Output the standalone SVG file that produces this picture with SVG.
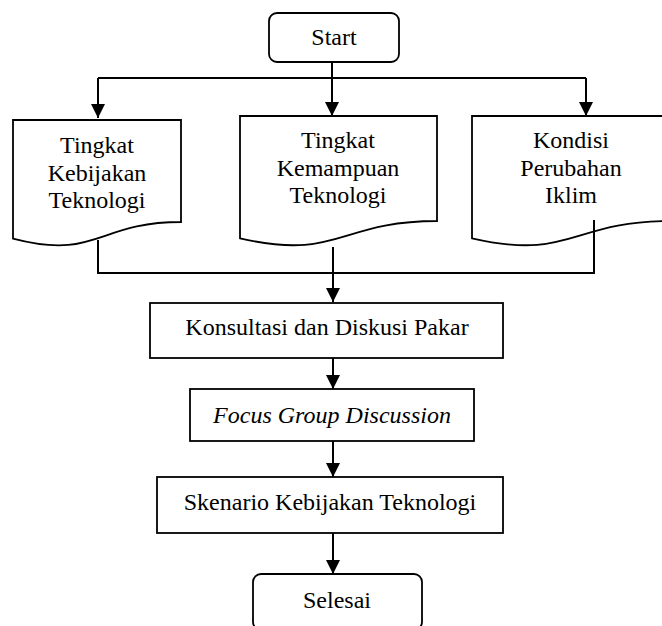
<svg xmlns="http://www.w3.org/2000/svg" width="662" height="626" viewBox="0 0 662 626">
<style>
.s{fill:#fff;stroke:#000;stroke-width:1.8}
.c{fill:none;stroke:#000;stroke-width:2}
text{font-family:"Liberation Serif","Times New Roman",serif;font-size:24px;fill:#000;text-anchor:middle}
</style>
<defs>
<marker id="ah" viewBox="0 0 14 14" refX="14" refY="7" markerWidth="14" markerHeight="14" markerUnits="userSpaceOnUse" orient="auto">
<path d="M0,0 L14,7 L0,14 Z" fill="#000"/>
</marker>
</defs>
<rect width="662" height="626" fill="#fff"/>
<g id="connectors">
<path class="c" d="M332,62 V116" marker-end="url(#ah)"/>
<path class="c" d="M98,78 H586"/>
<path class="c" d="M98,78 V118" marker-end="url(#ah)"/>
<path class="c" d="M586,78 V116" marker-end="url(#ah)"/>
<path class="c" d="M98,240 V273 H594 V220"/>
<path class="c" d="M333,247 V302" marker-end="url(#ah)"/>
<path class="c" d="M333,358 V389" marker-end="url(#ah)"/>
<path class="c" d="M333,441 V477" marker-end="url(#ah)"/>
<path class="c" d="M333,533 V574" marker-end="url(#ah)"/>
</g>
<g id="start">
<rect class="s" x="269" y="13" width="130" height="49" rx="8"/>
<text x="334" y="45">Start</text>
</g>
<g id="doc1">
<path class="s" d="M13,120 H181 V222 C97,222 97,260.6 13,238.6 Z"/>
<text x="97" y="153">Tingkat</text>
<text x="97" y="181">Kebijakan</text>
<text x="97" y="208">Teknologi</text>
</g>
<g id="doc2">
<path class="s" d="M240,116 H437 V221 C338.5,221 338.5,261 240,238.3 Z"/>
<text x="338" y="148">Tingkat</text>
<text x="338" y="176">Kemampuan</text>
<text x="338" y="203">Teknologi</text>
</g>
<g id="doc3">
<path class="s" d="M472,116 H670 V221 C571,221 571,261 472,238.3 Z"/>
<text x="571" y="148">Kondisi</text>
<text x="571" y="176">Perubahan</text>
<text x="571" y="203">Iklim</text>
</g>
<path class="c" d="M594,220 V240" stroke-width="2"/>
<g id="konsultasi">
<rect class="s" x="150" y="303" width="353" height="55"/>
<text x="327" y="335">Konsultasi dan Diskusi Pakar</text>
</g>
<g id="fgd">
<rect class="s" x="190" y="389" width="284" height="52"/>
<text x="332" y="423" font-style="italic">Focus Group Discussion</text>
</g>
<g id="skenario">
<rect class="s" x="157" y="477" width="346" height="56"/>
<text x="330" y="510">Skenario Kebijakan Teknologi</text>
</g>
<g id="selesai">
<rect class="s" x="253" y="574" width="169" height="56" rx="8"/>
<text x="337" y="608">Selesai</text>
</g>
</svg>
